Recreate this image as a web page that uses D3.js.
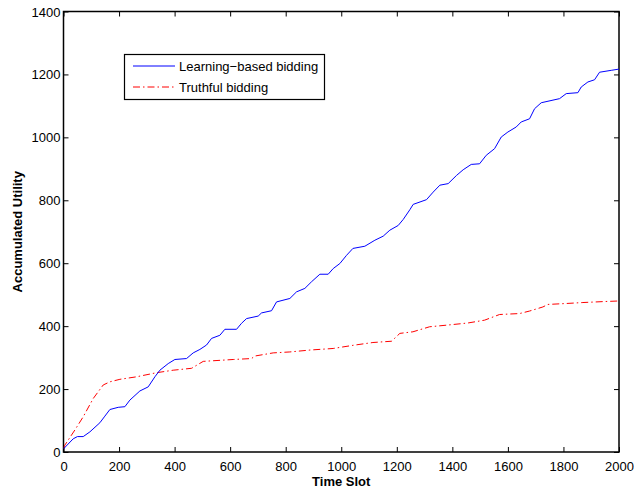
<!DOCTYPE html>
<html><head><meta charset="utf-8">
<script src="https://cdn.jsdelivr.net/npm/d3@7/dist/d3.min.js"></script>
<style>body{margin:0;background:#fff}svg{display:block}text{font-family:"Liberation Sans",Arial,sans-serif}</style>
</head><body>
<script>
const xTicks = [0,200,400,600,800,1000,1200,1400,1600,1800,2000];
const yTicks = [0,200,400,600,800,1000,1200,1400];
const seriesNames = ["Learning\u2212based bidding","Truthful bidding"];
const learningT = [0,35,50,71,95,131,149,167,197,221,239,275,305,329,347,377,401,443,467,491,515,533,563,581,623,641,659,701,713,749,767,815,839,869,893,923,953,971,995,1019,1042,1085,1121,1151,1175,1205,1223,1247,1259,1307,1331,1355,1385,1415,1439,1468,1498,1522,1552,1576,1600,1630,1648,1678,1696,1720,1786,1810,1852,1864,1888,1912,1930,1972,2000];
const learningV = [10,42,49,49,64,93,114,135,142,144,165,194,207,239,260,281,294,297,315,326,340,361,371,390,390,409,424,432,442,449,477,488,509,520,541,565,565,583,599,625,647,654,673,686,705,720,739,770,787,802,826,848,853,879,897,914,916,943,964,1001,1017,1033,1049,1059,1091,1110,1123,1139,1142,1160,1176,1183,1207,1213,1217];
const truthfulT = [0,5,41,71,107,143,167,203,263,335,395,461,503,611,677,689,755,815,887,971,1042,1114,1181,1211,1258,1318,1378,1456,1516,1570,1642,1678,1726,1744,1810,1870,1942,2000];
const truthfulV = [12,22,70,112,170,213,223,231,239,252,260,266,288,294,297,305,315,318,324,329,339,348,352,377,382,398,403,410,419,437,440,448,461,469,472,475,478,480];

const W=634,H=488;
const m={l:63.5,r:619,t:11.5,b:452};
const svg=d3.select("body").append("svg").attr("width",W).attr("height",H);
const x=d3.scaleLinear().domain([0,2000]).range([m.l,m.r]);
const y=d3.scaleLinear().domain([0,1400]).range([m.b,m.t]);

const fs=13;
// axes
const gx=svg.append("g").attr("transform",`translate(0,${m.b})`)
  .call(d3.axisBottom(x).tickValues(xTicks).tickSize(-5).tickPadding(10).tickFormat(d3.format("d")));
const gxt=svg.append("g").attr("transform",`translate(0,${m.t})`)
  .call(d3.axisTop(x).tickValues(xTicks).tickSize(-5).tickFormat(""));
const gy=svg.append("g").attr("transform",`translate(${m.l},0)`)
  .call(d3.axisLeft(y).tickValues(yTicks).tickSize(-5).tickPadding(3).tickFormat(d3.format("d")));
const gyr=svg.append("g").attr("transform",`translate(${m.r},0)`)
  .call(d3.axisRight(y).tickValues(yTicks).tickSize(-5).tickFormat(""));
[gx,gxt,gy,gyr].forEach(g=>{
  g.select(".domain").remove();
  g.selectAll("line").attr("stroke","#000").attr("stroke-width",1);
  g.selectAll("text").attr("font-size",fs).attr("fill","#000").attr("font-family","Liberation Sans, Arial, sans-serif");
});
gy.selectAll("text").attr("dy","0.35em");
svg.append("rect").attr("x",m.l).attr("y",m.t).attr("width",m.r-m.l).attr("height",m.b-m.t)
  .attr("fill","none").attr("stroke","#000").attr("stroke-width",1.5);

const line=d3.line().x(d=>x(d[0])).y(d=>y(d[1]));
const clip=svg.append("clipPath").attr("id","c").append("rect").attr("x",m.l).attr("y",m.t).attr("width",m.r-m.l).attr("height",m.b-m.t);
svg.append("path").datum(truthfulT.map((t,i)=>[t,truthfulV[i]])).attr("d",line)
  .attr("fill","none").attr("stroke","#ff0000").attr("stroke-width",1).attr("stroke-dasharray","7,3,1.5,3").attr("clip-path","url(#c)");
svg.append("path").datum(learningT.map((t,i)=>[t,learningV[i]])).attr("d",line.curve(d3.curveLinear))
  .attr("fill","none").attr("stroke","#0000ff").attr("stroke-width",1).attr("clip-path","url(#c)");

// labels
svg.append("text").attr("x",(m.l+m.r)/2).attr("y",486).attr("text-anchor","middle")
  .attr("font-size",fs).attr("font-weight","bold").text("Time Slot");
svg.append("text").attr("transform",`translate(22,${(m.t+m.b)/2}) rotate(-90)`).attr("text-anchor","middle")
  .attr("font-size",fs).attr("font-weight","bold").text("Accumulated Utility");

// legend
const lg=svg.append("g");
lg.append("rect").attr("x",124.5).attr("y",54.5).attr("width",200).attr("height",45)
  .attr("fill","#fff").attr("stroke","#000").attr("stroke-width",1.2);
const rows=[{c:"#0000ff",d:null,y:66},{c:"#ff0000",d:"7,3,1.5,3",y:87}];
rows.forEach((r,i)=>{
  lg.append("line").attr("x1",133).attr("x2",175).attr("y1",r.y).attr("y2",r.y)
    .attr("stroke",r.c).attr("stroke-width",1).attr("stroke-dasharray",r.d);
  lg.append("text").attr("x",179).attr("y",r.y).attr("dy","0.35em").attr("font-size",fs).text(seriesNames[i]);
});
</script>
</body></html>
